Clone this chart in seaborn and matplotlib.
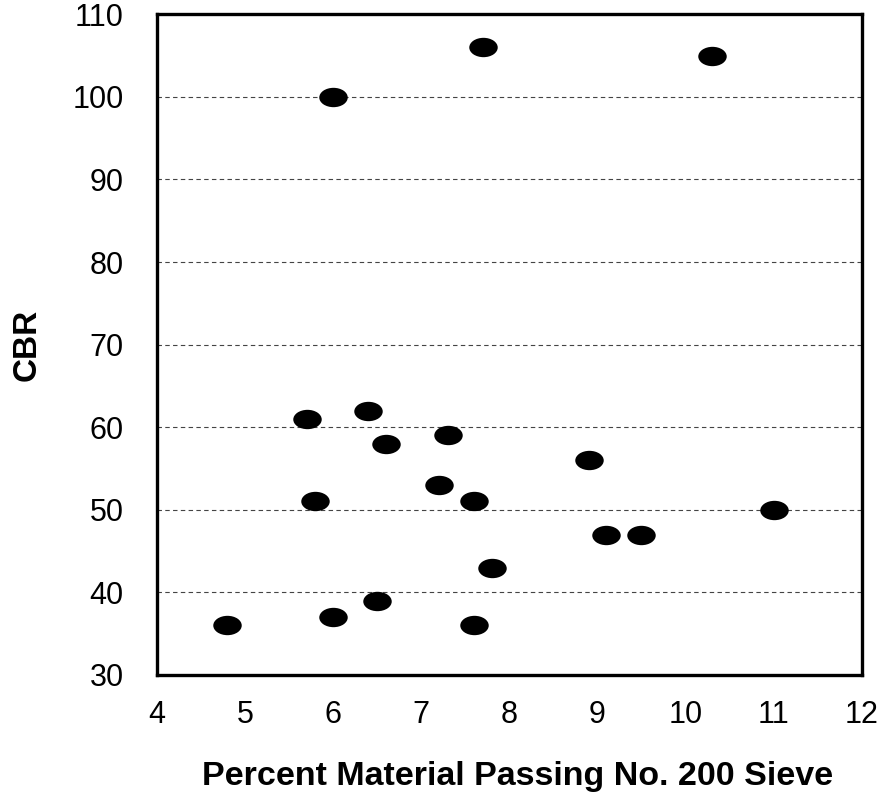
import numpy as np
import pandas as pd
import matplotlib
matplotlib.use("Agg")
import matplotlib.pyplot as plt
from matplotlib.path import Path
from matplotlib.transforms import Affine2D
from matplotlib.ticker import MultipleLocator
import seaborn as sns

# Percent passing No. 200 sieve vs. CBR
fines = [6.0, 7.7, 10.3, 5.7, 6.4, 6.6, 7.3, 8.9, 7.2, 5.8, 7.6, 11.0,
         9.1, 9.5, 7.8, 6.5, 6.0, 4.8, 7.6]
cbr = [100, 106, 105, 61, 62, 58, 59, 56, 53, 51, 51, 50,
       47, 47, 43, 39, 37, 36, 36]

x_ticks = [4, 5, 6, 7, 8, 9, 10, 11, 12]
y_ticks = [30, 40, 50, 60, 70, 80, 90, 100, 110]

df = pd.DataFrame({"fines": fines, "cbr": cbr})

sns.set_style("white")
plt.rcParams["font.family"] = ["Liberation Sans", "DejaVu Sans"]
plt.rcParams["text.color"] = "black"
plt.rcParams["axes.labelcolor"] = "black"

fig = plt.figure(figsize=(8.81, 7.94), dpi=100)
ax = fig.add_axes([0.178, 0.150, 0.800, 0.832])

# horizontally stretched ellipse marker
ellipse = Path.unit_circle().transformed(Affine2D().scale(1.47, 1.0))

sns.scatterplot(data=df, x="fines", y="cbr", ax=ax, marker=ellipse,
                s=420, color="black", edgecolor="black", linewidth=0,
                legend=False, zorder=3)

ax.set_xlim(4, 12)
ax.set_ylim(30, 110)
ax.set_xticks(x_ticks)
ax.set_yticks(y_ticks)
ax.xaxis.set_minor_locator(MultipleLocator(0.5))
ax.yaxis.set_minor_locator(MultipleLocator(5))

for v in y_ticks[1:-1]:
    ax.axhline(v, color="#444444", linewidth=0.8, linestyle=(0, (4, 3)), zorder=1)

for s in ax.spines.values():
    s.set_linewidth(2.4)
    s.set_color("black")
    s.set_visible(True)

ax.tick_params(axis="x", which="major", direction="inout", length=14, width=1,
               labelsize=22, pad=11, colors="black")
ax.tick_params(axis="x", which="minor", direction="inout", length=10, width=1)
ax.tick_params(axis="y", which="major", direction="out", length=7, width=1,
               labelsize=22, pad=17, colors="black")
ax.tick_params(axis="y", which="minor", direction="inout", length=6, width=1)

ax.set_xlabel("Percent Material Passing No. 200 Sieve", fontsize=24.5,
              fontweight="bold", color="black")
ax.xaxis.set_label_coords(0.512, -0.130)
ax.set_ylabel("CBR", fontsize=24, fontweight="bold", labelpad=21, color="black")

fig.savefig("out.png", dpi=100, facecolor="white")
